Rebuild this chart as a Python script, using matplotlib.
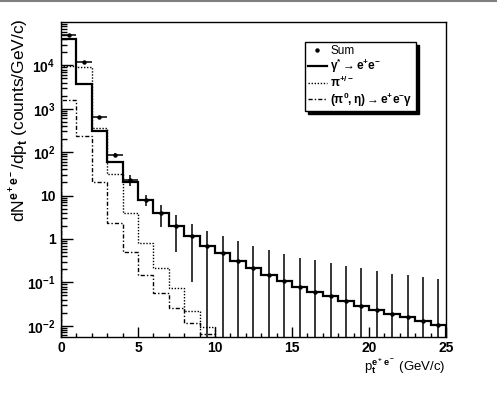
import matplotlib
matplotlib.use("Agg")
import matplotlib.pyplot as plt
import numpy as np
from matplotlib.lines import Line2D
from matplotlib.ticker import FixedLocator, FixedFormatter, LogLocator, NullFormatter

plt.rcParams['font.family'] = 'Liberation Sans'
plt.rcParams['font.weight'] = 'bold'
plt.rcParams['mathtext.fontset'] = 'custom'
plt.rcParams['mathtext.rm'] = 'Liberation Sans'
plt.rcParams['mathtext.it'] = 'Liberation Sans:italic'
plt.rcParams['mathtext.bf'] = 'Liberation Sans:bold'
plt.rcParams['mathtext.default'] = 'bf'

# pt bins, 1 GeV/c wide
edges = np.arange(0, 26, 1)
centers = edges[:-1] + 0.5

# gamma* -> e+e-
gamma_ee = [40000, 3700, 300, 60, 20, 7.9, 3.9, 2.0, 1.17, 0.69, 0.47, 0.31,
            0.21, 0.148, 0.11, 0.08, 0.061, 0.048, 0.037, 0.029, 0.0235,
            0.019, 0.0158, 0.0129, 0.0106]
# pi+/-
pion = [9500, 9000, 355, 31.6, 3.9, 0.82, 0.21, 0.073, 0.022, 0.0095]
# (pi0, eta) -> e+e-gamma
dalitz = [1600, 240, 20, 2.3, 0.51, 0.148, 0.056, 0.025, 0.0118, 0.0063]

# sum points with errors
sum_vals = [49000, 12000, 630, 87, 23, 8.1, 3.9, 2.0, 1.15, 0.69, 0.47, 0.31,
            0.21, 0.148, 0.11, 0.08, 0.061, 0.048, 0.037, 0.029, 0.0235,
            0.019, 0.0158, 0.0129, 0.0106]
sum_err = [250, 120, 25, 8, 6, 2.3, 2.0, 1.5, 1.05, 0.85, 0.67, 0.57,
           0.48, 0.40, 0.34, 0.29, 0.26, 0.23, 0.20, 0.18, 0.157,
           0.14, 0.13, 0.118, 0.11]

fig = plt.figure(figsize=(4.97, 3.99), dpi=100)
ax = fig.add_axes([0.1227, 0.1554, 0.7747, 0.7895])

ax.stairs(gamma_ee, edges, color='black', lw=1.6)
ax.stairs(pion, edges[:len(pion) + 1], color='black', lw=1.0, linestyle=(0, (1, 1.2)))
ax.stairs(dalitz, edges[:len(dalitz) + 1], color='black', lw=1.0,
          linestyle=(0, (3, 1.5, 1, 1.5)))

sv = np.array(sum_vals)
se = np.array(sum_err)
lower = np.minimum(se, sv * 0.999)
ax.errorbar(centers, sv, xerr=0.5, yerr=[lower, se], fmt='o', ms=2.2,
            color='black', elinewidth=1.1, capsize=0)

ax.set_yscale('log')
ax.set_xlim(0, 25)
ax.set_ylim(5.5e-3, 1e5)

ax.xaxis.set_major_locator(FixedLocator([0, 5, 10, 15, 20, 25]))
ax.xaxis.set_minor_locator(FixedLocator(np.arange(0, 26, 1)))
ytk = [1e-2, 1e-1, 1, 10, 1e2, 1e3, 1e4]
ylab = [r'$10^{-2}$', r'$10^{-1}$', '1', '10', r'$10^{2}$', r'$10^{3}$', r'$10^{4}$']
ax.yaxis.set_major_locator(FixedLocator(ytk))
ax.yaxis.set_major_formatter(FixedFormatter(ylab))
ax.yaxis.set_minor_locator(LogLocator(base=10, subs=np.arange(2, 10), numticks=20))
ax.yaxis.set_minor_formatter(NullFormatter())

ax.tick_params(axis='both', which='both', direction='in', top=False, right=False,
               labelsize=10, width=1.0)
ax.tick_params(axis='x', which='major', length=7, pad=3)
ax.tick_params(axis='x', which='minor', length=3)
ax.tick_params(axis='y', which='major', length=8.5, pad=4)
ax.tick_params(axis='y', which='minor', length=4)
for s in ax.spines.values():
    s.set_linewidth(1.0)

ax.set_xlabel(r'p$_{t}^{e^+e^-}$ (GeV/c)', fontsize=9.5, loc='right', labelpad=1)
ax.set_ylabel(r'dN$^{e^+e^-}$/dp$_{t}$ (counts/GeV/c)', fontsize=12.5, loc='top')
ax.yaxis.set_label_coords(-0.078, 1.01)

handles = [
    Line2D([], [], color='black', marker='o', ms=2.2, linestyle='none'),
    Line2D([], [], color='black', lw=1.6),
    Line2D([], [], color='black', lw=1.0, linestyle=(0, (1, 1.2))),
    Line2D([], [], color='black', lw=1.0, linestyle=(0, (3, 1.5, 1, 1.5))),
]
labels = ['Sum', r'$\mathrm{\gamma^{*} \rightarrow e^{+}e^{-}}$', r'$\mathrm{\pi^{+/-}}$',
          r'$\mathrm{(\pi^{0},\eta) \rightarrow e^{+}e^{-}\gamma}$']
leg = ax.legend(handles, labels, loc='upper left', bbox_to_anchor=(0.634, 0.9365),
                borderaxespad=0, fancybox=False, edgecolor='black', framealpha=1,
                shadow={'color': 'black', 'alpha': 1}, prop={'weight': 'normal', 'size': 8.5},
                handlelength=1.6, handletextpad=0.3, labelspacing=0.0, borderpad=0.25)
leg.get_frame().set_linewidth(1.0)

fig.add_artist(Line2D([0, 1], [0.997, 0.997], transform=fig.transFigure,
                      color='gray', lw=1.5))

fig.savefig('out.png', dpi=100)
